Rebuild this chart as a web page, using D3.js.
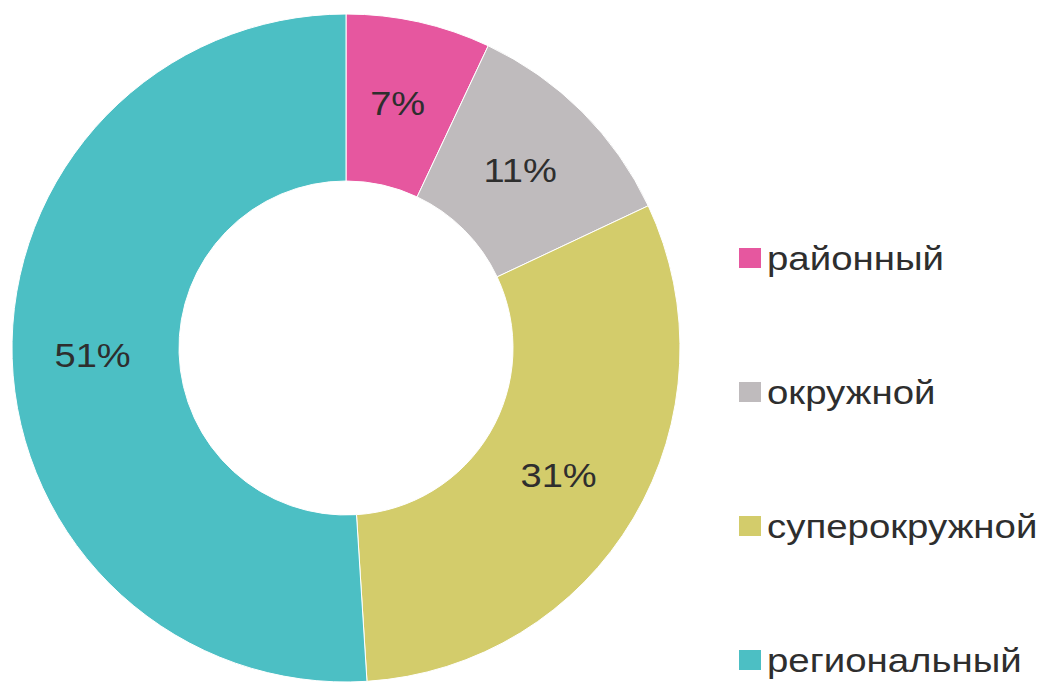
<!DOCTYPE html>
<html>
<head>
<meta charset="utf-8">
<script src="https://cdn.jsdelivr.net/npm/d3@7"></script>
<style>
  html, body { margin: 0; padding: 0; background: #fff; }
  svg { display: block; }
  text { font-family: "Liberation Sans", Arial, sans-serif; }
</style>
</head>
<body>
<svg id="chart" width="1043" height="682"></svg>
<script>
// Share of each level, percent
const categories = ["районный", "окружной", "суперокружной", "региональный"];
const values = [7, 11, 31, 51];
const colors = ["#E6579F", "#BFBBBD", "#D3CC6B", "#4CBFC4"];

const W = 1043, H = 682;
const cx = 346, cy = 348;
const outerR = 334, innerR = 167;
const textStretch = 1.12; // slightly wide lettering

const svg = d3.select("#chart");

const pie = d3.pie().sort(null).value(d => d);
const arc = d3.arc().innerRadius(innerR).outerRadius(outerR);
const labelArc = d3.arc().innerRadius((innerR + outerR) / 2).outerRadius((innerR + outerR) / 2);

const color = d3.scaleOrdinal().domain(categories).range(colors);

const g = svg.append("g").attr("transform", `translate(${cx},${cy})`);
const arcs = pie(values).map((a, i) => Object.assign(a, { name: categories[i] }));

g.selectAll("path.slice")
  .data(arcs)
  .join("path")
  .attr("class", "slice")
  .attr("d", arc)
  .attr("fill", d => color(d.name))
  .attr("stroke", "#fff")
  .attr("stroke-width", 1);

g.selectAll("text.pct")
  .data(arcs)
  .join("text")
  .attr("class", "pct")
  .attr("transform", d => {
    const [x, y] = labelArc.centroid(d);
    return `translate(${x - 3},${y - 1}) scale(${textStretch},1)`;
  })
  .attr("text-anchor", "middle")
  .attr("dy", "0.36em")
  .attr("font-size", 34)
  .attr("fill", "#2e2e2e")
  .text(d => d.data + "%");

// Legend
const legendY = d3.scalePoint().domain(categories).range([258, 660]);
const legend = svg.append("g");
const item = legend.selectAll("g.item")
  .data(categories)
  .join("g")
  .attr("class", "item")
  .attr("transform", d => `translate(739,${legendY(d)})`);

item.append("rect")
  .attr("x", 0).attr("y", -10)
  .attr("width", 22).attr("height", 20)
  .attr("fill", d => color(d));

item.append("text")
  .attr("transform", `translate(28,0) scale(${textStretch + 0.01},1)`)
  .attr("dy", "0.36em")
  .attr("font-size", 34)
  .attr("fill", "#2e2e2e")
  .text(d => d);
</script>
</body>
</html>
